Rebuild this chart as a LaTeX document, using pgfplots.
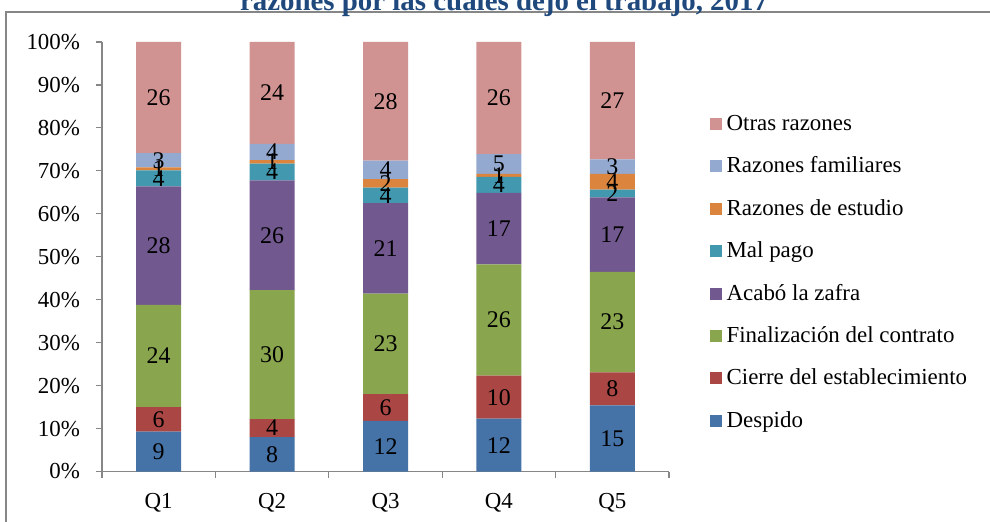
\documentclass[border=0pt]{standalone}
\usepackage{fontspec}
\setmainfont{Liberation Serif}
\usepackage{pgfplots}
\pgfplotsset{compat=1.18}
\usepackage{pgfplotstable}

\definecolor{cDesp}{HTML}{4572A7}
\definecolor{cCier}{HTML}{AA4643}
\definecolor{cFin}{HTML}{89A54E}
\definecolor{cAcab}{HTML}{71588F}
\definecolor{cMal}{HTML}{4198AF}
\definecolor{cEst}{HTML}{DB843D}
\definecolor{cFam}{HTML}{93A9CF}
\definecolor{cOtr}{HTML}{D19392}
\definecolor{axgray}{HTML}{868686}
\definecolor{cTitle}{HTML}{1F497D}

\pgfplotstableread{
x v
0 9.3
1 8.0
2 11.8
3 12.3
4 15.4
}\tDesp
\pgfplotstableread{
x v
0 5.7
1 4.2
2 6.2
3 10.0
4 7.7
}\tCier
\pgfplotstableread{
x v
0 23.8
1 30.0
2 23.4
3 25.9
4 23.4
}\tFin
\pgfplotstableread{
x v
0 27.6
1 25.6
2 21.1
3 16.7
4 17.3
}\tAcab
\pgfplotstableread{
x v
0 3.7
1 3.9
2 3.6
3 3.7
4 1.8
}\tMal
\pgfplotstableread{
x v
0 0.7
1 0.8
2 2.0
3 0.7
4 3.7
}\tEst
\pgfplotstableread{
x v
0 3.3
1 3.8
2 4.3
3 4.6
4 3.4
}\tFam
\pgfplotstableread{
x v
0 25.9
1 23.7
2 27.6
3 26.1
4 27.3
}\tOtr

\begin{document}
\begin{tikzpicture}[font=\fontsize{11.5}{13.8}\selectfont]
\clip (0,0) rectangle (495bp,261bp);
\draw[axgray, line width=0.6bp] (3bp,-2bp) -- (3bp,255bp) -- (497bp,255bp);
\node[anchor=base, font=\fontsize{14.5}{16}\selectfont\bfseries, text=cTitle, inner sep=0pt] at (252bp,255.5bp) {razones por las cuales dejó el trabajo, 2017};
\begin{axis}[
  at={(51bp,25.25bp)}, anchor=south west,
  width=283.5bp, height=214.75bp, scale only axis,
  ybar stacked, bar width=22.5bp,
  xmin=-0.5, xmax=4.5, ymin=0, ymax=100,
  xtick={0,...,4}, xticklabels={Q1,Q2,Q3,Q4,Q5},
  minor xtick={-0.5,0.5,...,4.5},
  ytick={0,10,...,100},
  yticklabel={\pgfmathprintnumber{\tick}\%},
  /pgf/number format/assume math mode=true,
  axis x line*=bottom, axis y line*=left,
  axis line style={draw=axgray, line width=0.6bp},
  tick style={draw=axgray, line width=0.6bp},
  tick align=outside,
  major tick length=3bp, minor tick length=3bp,
  major x tick style={draw=none},
  tick label style={text=black},
  yticklabel style={xshift=-4.5bp},
  xticklabel style={yshift=-4.5bp},
  visualization depends on={\thisrow{v} \as \rawy},
  nodes near coords={\pgfmathprintnumber[fixed,precision=0]{\rawy}},
  every node near coord/.append style={anchor=center, text=black, font=\fontsize{12}{14}\selectfont},
  reverse legend,
  legend cell align=left,
  legend image code/.code={\fill[#1] (0bp,-3bp) rectangle (6bp,3bp);},
  legend style={at={(1.072,0.837)}, anchor=north west, draw=none, fill=none, inner sep=0pt, row sep=9.25bp, nodes={inner xsep=2.2bp, inner ysep=1.25bp, text=black}},
]
\addplot[fill=cDesp, draw=none] table[x=x,y=v]{\tDesp};
\addlegendentry{Despido}
\addplot[fill=cCier, draw=none] table[x=x,y=v]{\tCier};
\addlegendentry{Cierre del establecimiento}
\addplot[fill=cFin, draw=none] table[x=x,y=v]{\tFin};
\addlegendentry{Finalización del contrato}
\addplot[fill=cAcab, draw=none] table[x=x,y=v]{\tAcab};
\addlegendentry{Acabó la zafra}
\addplot[fill=cMal, draw=none] table[x=x,y=v]{\tMal};
\addlegendentry{Mal pago}
\addplot[fill=cEst, draw=none] table[x=x,y=v]{\tEst};
\addlegendentry{Razones de estudio}
\addplot[fill=cFam, draw=none] table[x=x,y=v]{\tFam};
\addlegendentry{Razones familiares}
\addplot[fill=cOtr, draw=none] table[x=x,y=v]{\tOtr};
\addlegendentry{Otras razones}
\end{axis}
\end{tikzpicture}
\end{document}
